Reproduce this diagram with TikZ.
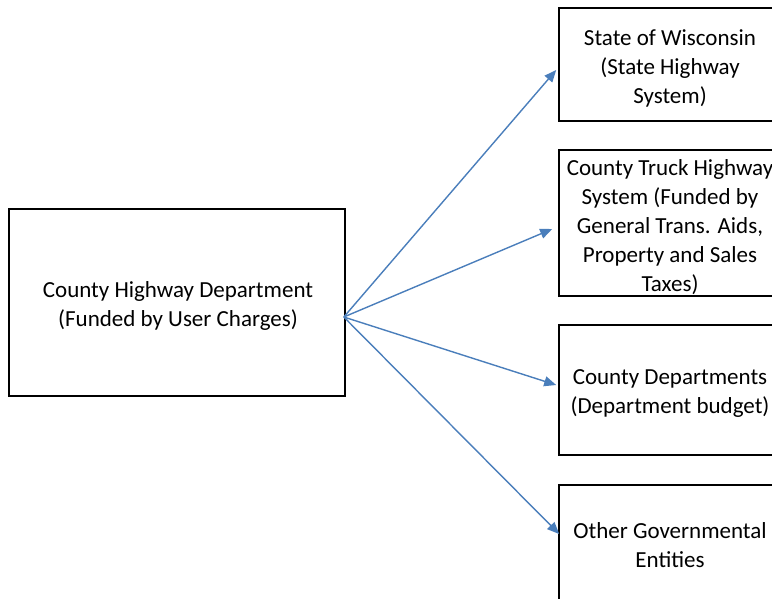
\documentclass[tikz,border=0pt]{standalone}
\usepackage{fontspec}
\setmainfont{Carlito}
\usetikzlibrary{arrows.meta}
\definecolor{arrowblue}{HTML}{4A7EBB}
\begin{document}
\begin{tikzpicture}[x=1pt,y=-1pt,
  box/.style={draw=black, line width=1.6pt, inner sep=0pt},
  txt/.style={font=\fontsize{23}{29}\selectfont, align=center, inner sep=0pt},
  link/.style={draw=arrowblue, line width=1.4pt, -{Triangle[length=12pt,width=10pt]}}]
\useasboundingbox (0,0) rectangle (772,598);
\clip (0,0) rectangle (772,598);
\node[box, minimum width=336pt, minimum height=187pt] (hwy) at (177,302.5) {};
\node[box, minimum width=222pt, minimum height=113pt] (b1) at (670,64.5) {};
\node[box, minimum width=222pt, minimum height=146pt] (b2) at (670,223) {};
\node[box, minimum width=222pt, minimum height=130pt] (b3) at (670,390) {};
\node[box, minimum width=222pt, minimum height=116pt] (b4) at (670,543) {};
\node[txt] (hwyt) at ([shift={(1,3)}]hwy.center) {County Highway Department\\(Funded by User Charges)};
\node[txt] (b1t) at ([shift={(0,3.5)}]b1.center) {State of Wisconsin\\(State Highway\\System)};
\node[txt] (b2t) at ([shift={(0,4)}]b2.center) {County Truck Highway\\System (Funded by\\General Trans. Aids,\\Property and Sales\\Taxes)};
\node[txt] (b3t) at ([shift={(0,4)}]b3.center) {County Departments\\(Department budget)};
\node[txt] (b4t) at ([shift={(0,2)}]b4.center) {Other Governmental\\Entities};
\coordinate (o) at ([shift={(-2,14.5)}]hwy.east);
\coordinate (t1) at ([shift={(-2,5.5)}]b1.west);
\coordinate (t2) at ([shift={(-6,6)}]b2.west);
\coordinate (t3) at ([shift={(-2,-5)}]b3.west);
\coordinate (t4) at ([shift={(1,-9)}]b4.west);
\draw[link] (o) -- (t1);
\draw[link] (o) -- (t2);
\draw[link] (o) -- (t3);
\draw[link] (o) -- (t4);
\end{tikzpicture}
\end{document}
